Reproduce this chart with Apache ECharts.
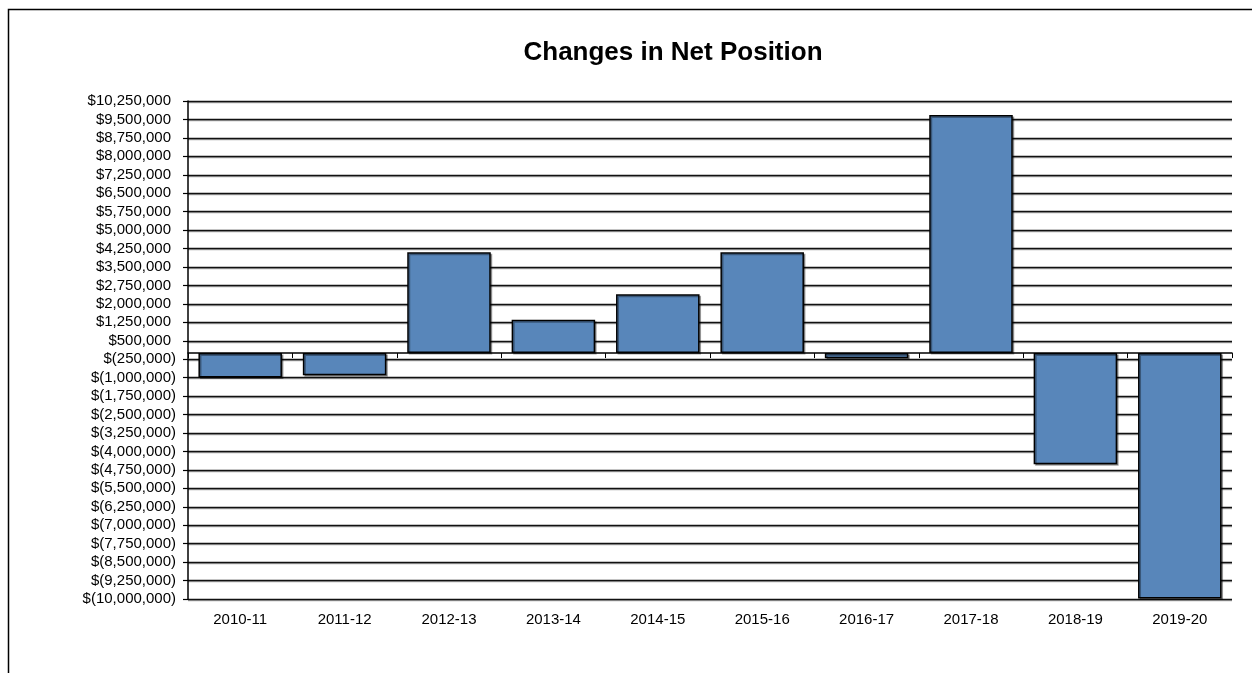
<!DOCTYPE html>
<html>
<head>
<meta charset="utf-8">
<script src="https://cdn.jsdelivr.net/npm/echarts@6/dist/echarts.min.js"></script>
<style>
html,body{margin:0;padding:0;background:#fff;}
#chart{width:1252px;height:673px;}
</style>
</head>
<body>
<div id="chart"></div>
<script>
const titleText = 'Changes in Net Position';
const categories = ['2010-11','2011-12','2012-13','2013-14','2014-15','2015-16','2016-17','2017-18','2018-19','2019-20'];
const netChange = [-990000, -900000, 4100000, 1355000, 2390000, 4100000, -215000, 9680000, -4520000, -9980000];
const yMin = -10000000;
const yMax = 10250000;
const yStep = 750000;

function fmtMoney(v) {
  const s = Math.abs(v).toLocaleString('en-US');
  return v < 0 ? '$(' + s + ')' : '{p|$' + s + '}';
}

const FONT = '"Liberation Sans", Arial, sans-serif';
const chart = echarts.init(document.getElementById('chart'), null, {renderer: 'canvas'});
chart.setOption({
  animation: false,
  backgroundColor: '#fff',
  title: {
    text: titleText,
    left: 668, top: 35, textAlign: 'center',
    textStyle: {fontFamily: FONT, fontSize: 26, fontWeight: 'bold', color: '#000'}
  },
  graphic: [{
    type: 'rect', silent: true, z: 0,
    shape: {x: 8.5, y: 9.5, width: 1400, height: 800},
    style: {fill: null, stroke: '#000', lineWidth: 1.5}
  }],
  grid: {left: 188, right: 20, top: 101, bottom: 74, containLabel: false},
  xAxis: [{
    type: 'category', data: categories, position: 'bottom',
    axisLine: {show: false, onZero: false},
    axisTick: {show: false},
    axisLabel: {fontFamily: FONT, fontSize: 15, color: '#000', margin: 13},
    splitLine: {show: false}
  }, {
    type: 'category', data: categories, position: 'top',
    axisLine: {show: true, onZero: true, lineStyle: {color: '#000', width: 1.5}},
    axisTick: {show: true, inside: true, length: 5, lineStyle: {color: '#000', width: 1}},
    axisLabel: {show: false},
    splitLine: {show: false}
  }],
  yAxis: {
    type: 'value', min: yMin, max: yMax, interval: yStep,
    axisLine: {show: true, lineStyle: {color: '#000', width: 1.5}},
    axisTick: {show: true, length: 5, lineStyle: {color: '#000', width: 1.2}},
    axisLabel: {
      fontFamily: FONT, fontSize: 15, color: '#000', margin: 12,
      formatter: fmtMoney,
      rich: {p: {fontFamily: FONT, fontSize: 15, color: '#000', padding: [0, 5, 0, 0]}}
    },
    splitLine: {show: true, lineStyle: {color: '#111', width: 1.3, shadowColor: 'rgba(0,0,0,0.35)', shadowOffsetY: 1.2, shadowBlur: 0}}
  },
  series: [{
    type: 'bar', data: netChange, xAxisIndex: 0, yAxisIndex: 0,
    barCategoryGap: '20%', z: 3,
    itemStyle: {color: '#5886BA', borderColor: '#000', borderWidth: 1.5,
      shadowColor: 'rgba(0,0,0,0.35)', shadowOffsetX: 1.5, shadowOffsetY: 1.5, shadowBlur: 0}
  }]
});
</script>
</body>
</html>
